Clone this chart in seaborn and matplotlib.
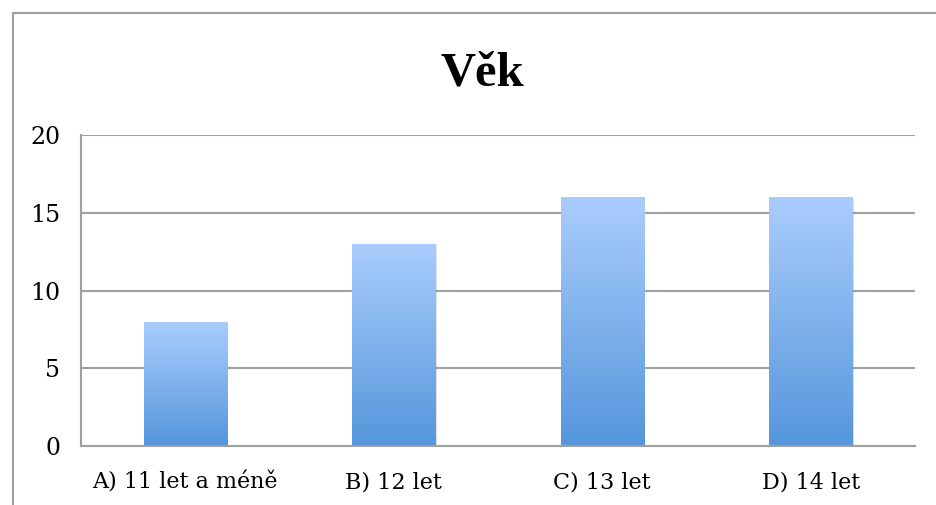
import numpy as np
import pandas as pd
import matplotlib
matplotlib.use("Agg")
import matplotlib.pyplot as plt
import seaborn as sns
from matplotlib.patches import Rectangle
from matplotlib.colors import LinearSegmentedColormap

categories = ["A) 11 let a méně", "B) 12 let", "C) 13 let", "D) 14 let"]
values = [8, 13, 16, 16]
yticks = [0, 5, 10, 15, 20]
title = "Věk"

sns.set_theme(style="white")
plt.rcParams['font.family'] = ['DejaVu Serif']
plt.rcParams['text.color'] = 'black'
plt.rcParams['xtick.color'] = 'black'
plt.rcParams['ytick.color'] = 'black'

fig = plt.figure(figsize=(9.37, 5.05), dpi=100)
ax = fig.add_axes([81/937, 59/505, (915-81)/937, (446-135)/505])

df = pd.DataFrame({"cat": categories, "val": values})
sns.barplot(data=df, x="cat", y="val", ax=ax, width=0.40, color="#7fb0ee",
            edgecolor="none", saturation=1)

ax.set_xlim(-0.5, len(categories) - 0.5)
ax.set_ylim(0, 20)
ax.set_yticks(yticks)
ax.set_yticklabels([str(t) for t in yticks], fontsize=17)
ax.set_xlabel("")
ax.set_ylabel("")
ax.tick_params(axis='x', which='major', length=0, pad=18, labelsize=16, labelcolor="black")
ax.set_xticks(np.arange(-0.5, len(categories)), minor=True)
ax.tick_params(axis='x', which='minor', length=9, width=1.5, color="#a0a0a0", direction='out')
ax.tick_params(axis='y', which='major', length=8, width=1.5, color="#a0a0a0", direction='out',
               pad=7, labelcolor="black")

for t in yticks[1:]:
    ax.axhline(t, color="#a0a0a0", lw=1.5, zorder=0.5)

for s in ["top", "right"]:
    ax.spines[s].set_visible(False)
for s in ["left", "bottom"]:
    ax.spines[s].set_color("#a0a0a0")
    ax.spines[s].set_linewidth(1.5)

# gradient fill for each bar
cmap = LinearSegmentedColormap.from_list("g", ["#5596dc", "#aacdfd"])
grad = np.linspace(0, 1, 256).reshape(-1, 1)
for p in list(ax.patches):
    x0, y0 = p.get_x(), p.get_y()
    w, h = p.get_width(), p.get_height()
    sh = Rectangle((x0 + 0.006, y0), w, h - 0.1, facecolor="#000000", alpha=0.12,
                   edgecolor="none", zorder=1.5)
    ax.add_patch(sh)
    im = ax.imshow(grad, cmap=cmap, origin="lower", aspect="auto",
                   extent=[x0, x0 + w, y0, y0 + h], zorder=2)
    im.set_clip_path(p)
    p.set_zorder(2)
ax.set_xlim(-0.5, len(categories) - 0.5)
ax.set_ylim(0, 20)

fig.text(482/937, 1 - 73/505, title, ha="center", va="center",
         fontsize=35, fontweight="bold", color="black",
         family=['Liberation Serif', 'DejaVu Serif'])

frame = Rectangle((13/937, -0.2), 1.2, 1.2 - 13/505, transform=fig.transFigure,
                  fill=False, edgecolor="#a0a0a0", lw=1.5)
fig.add_artist(frame)

fig.savefig("out.png", dpi=100)
